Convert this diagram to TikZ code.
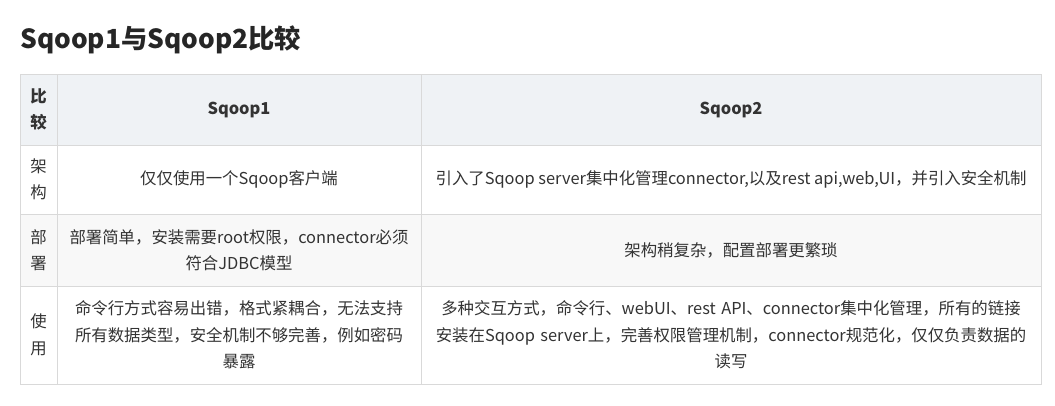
\documentclass[tikz,border=0pt]{standalone}
\usepackage{fontspec}
\setmainfont{Noto Sans CJK SC}
\definecolor{hdrbg}{HTML}{EFF2F5}
\definecolor{rowbg}{HTML}{F8F8F8}
\begin{document}
\begin{tikzpicture}[x=1pt,y=-1pt,
  cell/.style={draw=none,align=center,font=\fontsize{16.4}{26.5}\selectfont,text=black!80},
  hdr/.style={cell,font=\fontsize{16.4}{26.5}\selectfont\bfseries}]
\useasboundingbox (0,0) rectangle (1055,405);
\node[anchor=west,inner sep=0pt,font=\fontsize{26.3}{30}\selectfont\bfseries,text=black!85] (title) at (20,40) {Sqoop1与Sqoop2比较};
\fill[hdrbg] (20,74) rectangle (1041,145);
\fill[rowbg] (20,214) rectangle (1041,286);
\draw[gray!30] (20,74) rectangle (1041,384);
\foreach \y in {145,214,286} \draw[gray!30] (20,\y) -- (1041,\y);
\foreach \x in {57,421} \draw[gray!30] (\x,74) -- (\x,384);
\node[hdr,text width=20pt] (h0) at (38.5,109.5) {比\\较};
\node[hdr] (h1) at (239,109.5) {Sqoop1};
\node[hdr] (h2) at (731,109.5) {Sqoop2};
\node[cell,text width=20pt] (a0) at (38.5,179.5) {架\\构};
\node[cell] (a1) at (239,179.5) {仅仅使用一个Sqoop客户端};
\node[cell] (a2) at (731,179.5) {引入了Sqoop server集中化管理connector,以及rest api,web,UI，并引入安全机制};
\node[cell,text width=20pt] (b0) at (38.5,250) {部\\署};
\node[cell,text width=355pt] (b1) at (239,250) {部署简单，安装需要root权限，connector必须\\符合JDBC模型};
\node[cell] (b2) at (731,250) {架构稍复杂，配置部署更繁琐};
\node[cell,text width=20pt] (c0) at (38.5,335) {使\\用};
\node[cell,text width=355pt] (c1) at (239,335) {命令行方式容易出错，格式紧耦合，无法支持\\所有数据类型，安全机制不够完善，例如密码\\暴露};
\node[cell,text width=615pt] (c2) at (731,335) {多种交互方式，命令行、webUI、rest API、connector集中化管理，所有的链接\\安装在Sqoop server上，完善权限管理机制，connector规范化，仅仅负责数据的\\读写};
\end{tikzpicture}
\end{document}
